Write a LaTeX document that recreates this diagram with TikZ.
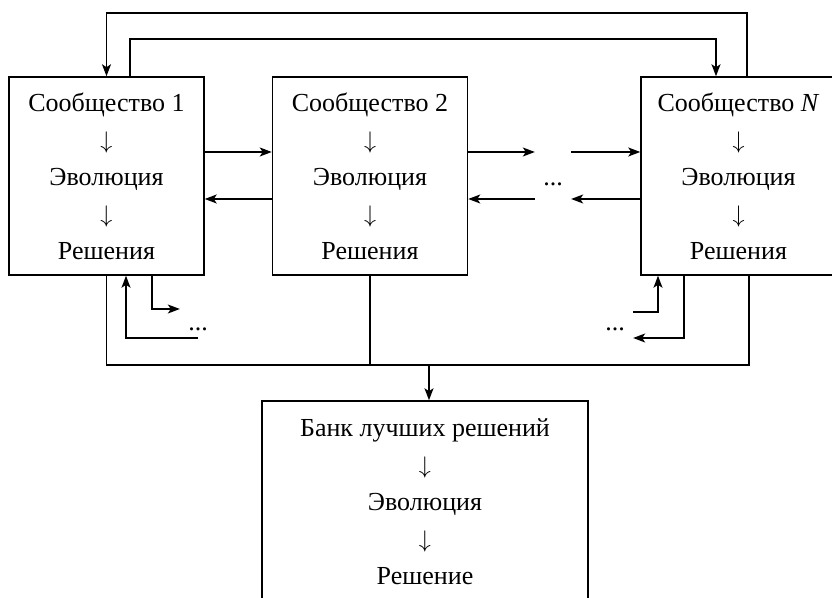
\documentclass[tikz,border=0pt]{standalone}
\usepackage{fontspec}
\setmainfont{Liberation Serif}
\usetikzlibrary{calc,arrows.meta}
\tikzset{%
box/.style={draw,line width=0.75pt,minimum width=97.5pt,minimum height=99pt,
            align=center,font=\fontsize{13}{18.5}\selectfont},
flow/.style={line width=0.75pt,-{Stealth[length=6pt,width=4.5pt,inset=1.5pt]}},
link/.style={line width=0.75pt},
dots/.style={inner sep=4pt,font=\fontsize{13}{15}\selectfont}
}

\begin{document}
\begin{tikzpicture}[x=0.5pt,y=-0.5pt]
\useasboundingbox (0,0) rectangle (832,598);
%%
\foreach \name/\num/\i in {c1/1/106.5,
                           c2/2/370,
                           cN/{\textit{N}}/738.5%
                          }
     \node[box] (\name) at (\i,176) {Сообщество \num\\$\downarrow$\\Эволюция\\$\downarrow$\\Решения};
\node[box,minimum width=163pt,minimum height=101pt] (bank) at (425,502)
     {Банк лучших решений\\$\downarrow$\\Эволюция\\$\downarrow$\\Решение};
%%
\node[dots] (dM) at (553,184) {...};
\node[dots] (dL) at (198,329) {...};
\node[dots] (dR) at (615,329) {...};
\coordinate (bus) at (429,365);
%%%%%%%%%%%%%%
%% top loops
\draw[flow] ($(cN.north)+(8.5,0)$)  -- ++(0,-63) -| (c1.north);
\draw[flow] ($(c1.north)+(23.5,0)$) -- ++(0,-37) -| ($(cN.north)+(-22.5,0)$);
%%
\draw[flow] ([yshift=12pt]c1.east)   -- ([yshift=12pt]c2.west);
\draw[flow] ([yshift=-11.5pt]c2.west) -- ([yshift=-11.5pt]c1.east);
\draw[flow] ([yshift=12pt]c2.east)   -- ([yshift=12pt]c2.east -| dM.west);
\draw[flow] ([yshift=12pt]cN.west -| dM.east) -- ([yshift=12pt]cN.west);
\draw[flow] ([yshift=-11.5pt]cN.west) -- ([yshift=-11.5pt]cN.west -| dM.east);
\draw[flow] ([yshift=-11.5pt]c2.east -| dM.west) -- ([yshift=-11.5pt]c2.east);
%%
\draw[flow] ($(c1.south)+(45.5,0)$)  |- ([yshift=10pt]dL.west);
\draw[flow] ([yshift=-4.5pt]dL.center) -| ($(c1.south)+(19.5,0)$);
\draw[flow] ([yshift=8.5pt]dR.east)  -| ($(cN.south)+(-80.5,0)$);
\draw[flow] ($(cN.south)+(-54.5,0)$) |- ([yshift=-4.5pt]dR.east);
%% to the bank
\draw[link] (c1.south) |- (bus) -| ($(cN.south)+(10.5,0)$);
\draw[link] (c2.south) -- (c2.south |- bus);
\draw[flow] (bus) -- (bus |- bank.north);
\end{tikzpicture}
\end{document}
